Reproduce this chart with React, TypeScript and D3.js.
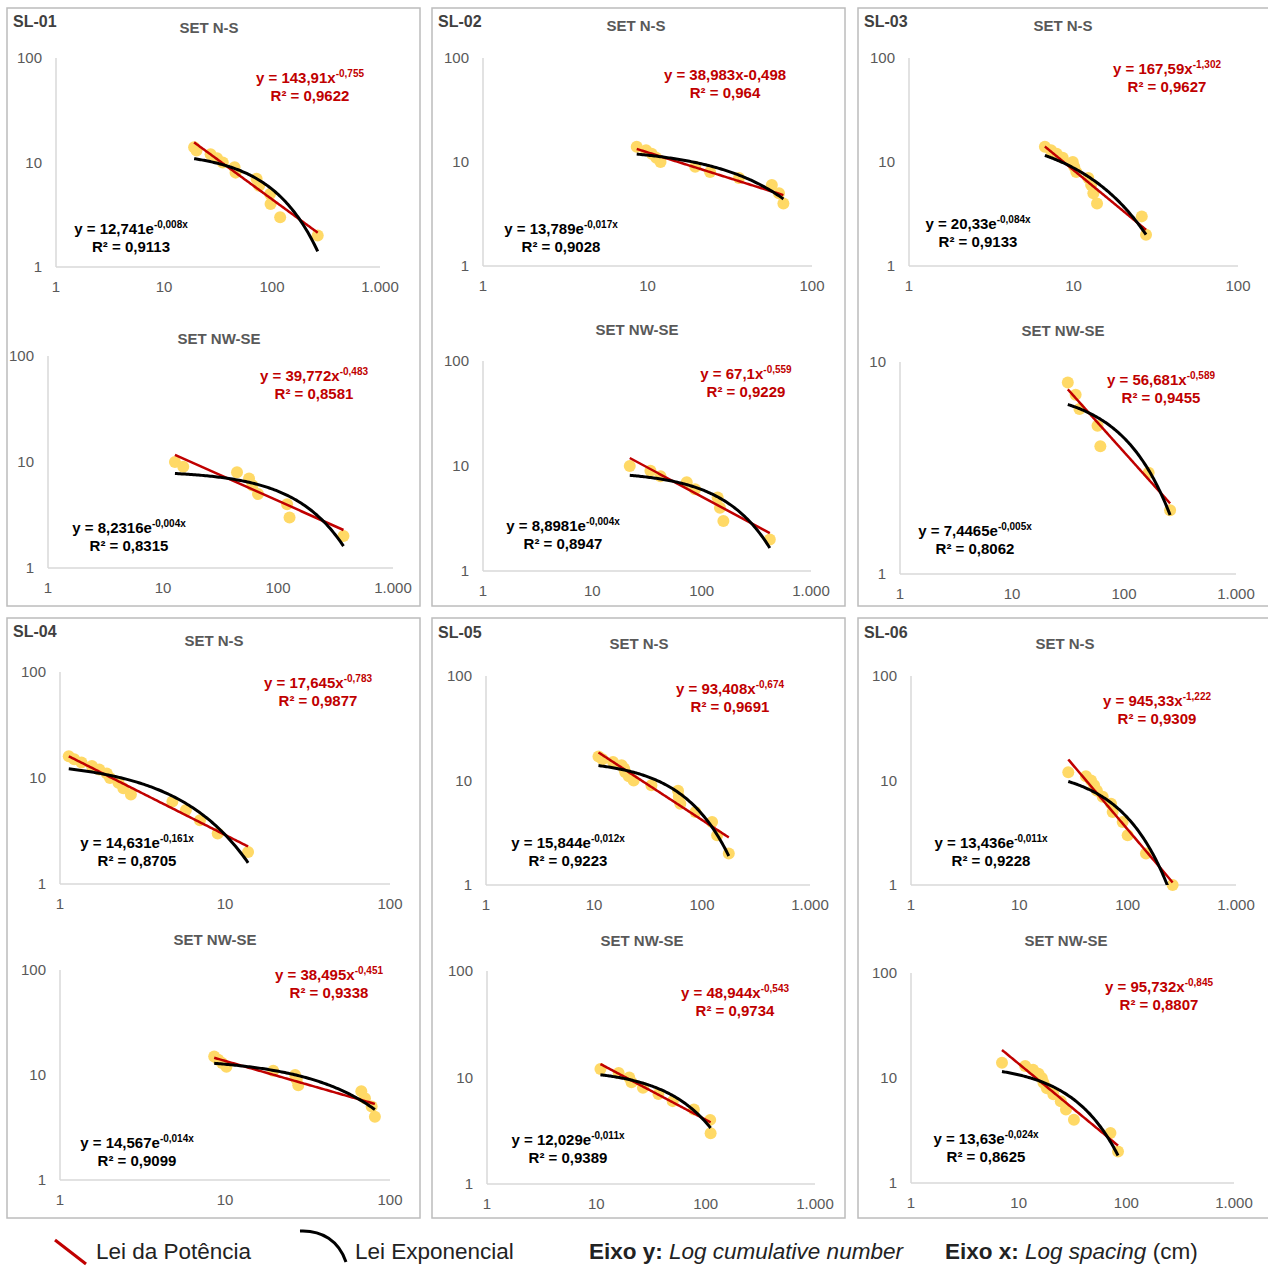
import React from "react";
import * as d3 from "d3";

const panelNames = ["SL-01", "SL-02", "SL-03", "SL-04", "SL-05", "SL-06"];
const setNames = ["SET N-S", "SET NW-SE"];

// spacing (cm) and cumulative number, per subplot
const sl01nsX = [19, 20, 27, 31, 35, 45, 46, 72, 76, 96, 97, 119, 265];
const sl01nsY = [14, 13, 12, 11, 10, 9, 8, 7, 6, 5, 4, 3, 2];
const sl01nwX = [12.7, 15, 44, 56, 60, 67, 120, 126, 371];
const sl01nwY = [10, 9, 8, 7, 6, 5, 4, 3, 2];
const sl02nsX = [8.6, 9.8, 10.6, 11.3, 12, 19.5, 24, 36, 57, 63, 67];
const sl02nsY = [14, 13, 12, 11, 10, 9, 8, 7, 6, 5, 4];
const sl02nwX = [22, 34, 42, 73, 87, 140, 147, 158, 420];
const sl02nwY = [10, 9, 8, 7, 6, 5, 4, 3, 2];
const sl03nsX = [6.7, 7.3, 7.9, 8.6, 9.9, 10.1, 10.4, 12.3, 12.8, 13.2, 13.9, 26, 27.6];
const sl03nsY = [14, 13, 12, 11, 10, 9, 8, 7, 6, 5, 4, 3, 2];
const sl03nwX = [31.5, 37, 40, 58, 61.5, 166, 258];
const sl03nwY = [8, 7, 6, 5, 4, 3, 2];
const sl04nsX = [1.13, 1.22, 1.35, 1.56, 1.73, 1.92, 2.01, 2.26, 2.42, 2.69, 4.8, 5.8, 7.05, 9.03, 13.8];
const sl04nsY = [16, 15, 14, 13, 12, 11, 10, 9, 8, 7, 6, 5, 4, 3, 2];
const sl04nwX = [8.6, 9.1, 9.6, 10.2, 19.6, 26.6, 27.2, 27.8, 67, 70.5, 77.4, 81];
const sl04nwY = [15, 14, 13, 12, 11, 10, 9, 8, 7, 6, 5, 4];
const sl05nsX = [11, 12, 15, 18, 19, 19.5, 21, 23.3, 34, 60, 61, 63, 87, 124, 138, 177];
const sl05nsY = [17, 16, 15, 14, 13, 12, 11, 10, 9, 8, 7, 6, 5, 4, 3, 2];
const sl05nwX = [10.9, 16, 20, 21, 26.7, 37, 50, 78, 110, 111];
const sl05nwY = [12, 11, 10, 9, 8, 7, 6, 5, 4, 3];
const sl06nsX = [28.3, 41.2, 45.9, 49, 52, 58.8, 70.2, 72.7, 89.9, 100, 147.6, 260];
const sl06nsY = [12, 11, 10, 9, 8, 7, 6, 5, 4, 3, 2, 1];
const sl06nwX = [7.0, 11.5, 13.6, 15.3, 16.4, 17, 18.3, 21, 24.6, 27.5, 32.6, 71.2, 83.7];
const sl06nwY = [14, 13, 12, 11, 10, 9, 8, 7, 6, 5, 4, 3, 2];

const seriesX = [sl01nsX, sl01nwX, sl02nsX, sl02nwX, sl03nsX, sl03nwX, sl04nsX, sl04nwX, sl05nsX, sl05nwX, sl06nsX, sl06nwX];
const seriesY = [sl01nsY, sl01nwY, sl02nsY, sl02nwY, sl03nsY, sl03nwY, sl04nsY, sl04nwY, sl05nsY, sl05nwY, sl06nsY, sl06nwY];

// trend line coefficients (power: a*x^b ; exponential: a*e^(b*x))
const powA = [143.91, 39.772, 38.983, 67.1, 167.59, 56.681, 17.645, 38.495, 93.408, 48.944, 945.33, 95.732];
const powB = [-0.755, -0.483, -0.498, -0.559, -1.302, -0.589, -0.783, -0.451, -0.674, -0.543, -1.222, -0.845];
const expA = [12.741, 8.2316, 13.789, 8.8981, 20.33, 7.4465, 14.631, 14.567, 15.844, 12.029, 13.436, 13.63];
const expB = [-0.0083, -0.0044, -0.017, -0.004, -0.084, -0.0053, -0.161, -0.014, -0.012, -0.0115, -0.0112, -0.024];

const xMax = [1000, 1000, 100, 1000, 100, 1000, 100, 100, 1000, 1000, 1000, 1000];
const yMax = [100, 100, 100, 100, 100, 10, 100, 100, 100, 100, 100, 100];
const xTickLabels = ["1", "10", "100", "1.000"];
const yTickLabels = ["1", "10", "100"];

const redEq = ["y = 143,91x", "y = 39,772x", "y = 38,983x-0,498", "y = 67,1x", "y = 167,59x", "y = 56,681x", "y = 17,645x", "y = 38,495x", "y = 93,408x", "y = 48,944x", "y = 945,33x", "y = 95,732x"];
const redSup = ["-0,755", "-0,483", "", "-0,559", "-1,302", "-0,589", "-0,783", "-0,451", "-0,674", "-0,543", "-1,222", "-0,845"];
const redR2 = ["0,9622", "0,8581", "0,964", "0,9229", "0,9627", "0,9455", "0,9877", "0,9338", "0,9691", "0,9734", "0,9309", "0,8807"];
const blackEq = ["y = 12,741e", "y = 8,2316e", "y = 13,789e", "y = 8,8981e", "y = 20,33e", "y = 7,4465e", "y = 14,631e", "y = 14,567e", "y = 15,844e", "y = 12,029e", "y = 13,436e", "y = 13,63e"];
const blackSup = ["-0,008x", "-0,004x", "-0,017x", "-0,004x", "-0,084x", "-0,005x", "-0,161x", "-0,014x", "-0,012x", "-0,011x", "-0,011x", "-0,024x"];
const blackR2 = ["0,9113", "0,8315", "0,9028", "0,8947", "0,9133", "0,8062", "0,8705", "0,9099", "0,9223", "0,9389", "0,9228", "0,8625"];

// layout (pixel geometry)
const LAYOUT = [
  { x0: 56, x1: 380, y0: 58, y1: 267, title: [209, 33], red: [310, 83], black: [131, 234] },
  { x0: 48, x1: 393, y0: 356, y1: 568, title: [219, 344], red: [314, 381], black: [129, 533] },
  { x0: 483, x1: 812, y0: 58, y1: 266, title: [636, 31], red: [725, 80], black: [561, 234] },
  { x0: 483, x1: 811, y0: 361, y1: 571, title: [637, 335], red: [746, 379], black: [563, 531] },
  { x0: 909, x1: 1238, y0: 58, y1: 266, title: [1063, 31], red: [1167, 74], black: [978, 229] },
  { x0: 900, x1: 1236, y0: 362, y1: 574, title: [1063, 336], red: [1161, 385], black: [975, 536] },
  { x0: 60, x1: 390, y0: 672, y1: 884, title: [214, 646], red: [318, 688], black: [137, 848] },
  { x0: 60, x1: 390, y0: 970, y1: 1180, title: [215, 945], red: [329, 980], black: [137, 1148] },
  { x0: 486, x1: 810, y0: 676, y1: 885, title: [639, 649], red: [730, 694], black: [568, 848] },
  { x0: 487, x1: 815, y0: 971, y1: 1184, title: [642, 946], red: [735, 998], black: [568, 1145] },
  { x0: 911, x1: 1236, y0: 676, y1: 885, title: [1065, 649], red: [1157, 706], black: [991, 848] },
  { x0: 911, x1: 1234, y0: 973, y1: 1183, title: [1066, 946], red: [1159, 992], black: [986, 1144] },
];
const PANELS = [
  { x: 7, y: 8, w: 413, h: 598, lx: 13, ly: 27 },
  { x: 432, y: 8, w: 413, h: 598, lx: 438, ly: 27 },
  { x: 858, y: 8, w: 414, h: 598, lx: 864, ly: 27 },
  { x: 7, y: 618, w: 413, h: 600, lx: 13, ly: 637 },
  { x: 432, y: 618, w: 413, h: 600, lx: 438, ly: 638 },
  { x: 858, y: 618, w: 414, h: 600, lx: 864, ly: 638 },
];

const FONT = "'Liberation Sans', Arial, Helvetica, sans-serif";
const RED = "#c00000";
const AXIS = "#d9d9d9";
const LABEL = "#595959";

function Subplot({ i }: { i: number }) {
  const L = LAYOUT[i];
  const x = d3.scaleLog().domain([1, xMax[i]]).range([L.x0, L.x1]);
  const y = d3.scaleLog().domain([1, yMax[i]]).range([L.y1, L.y0]);
  const xs = seriesX[i];
  const ys = seriesY[i];
  const [lo, hi] = d3.extent(xs) as [number, number];
  const samples = d3.range(0, 101).map((k) => lo * Math.pow(hi / lo, k / 100));
  const line = d3
    .line<[number, number]>()
    .x((d) => x(d[0]))
    .y((d) => y(d[1]));
  const powPts = samples.map((v) => [v, powA[i] * Math.pow(v, powB[i])] as [number, number]);
  const expPts = samples.map((v) => [v, expA[i] * Math.exp(expB[i] * v)] as [number, number]);
  const xTicks = d3.range(0, Math.round(Math.log10(xMax[i])) + 1).map((k) => Math.pow(10, k));
  const yTicks = d3.range(0, Math.round(Math.log10(yMax[i])) + 1).map((k) => Math.pow(10, k));
  const clipId = `clip-${i}`;
  return (
    <g>
      <defs>
        <clipPath id={clipId}>
          <rect x={L.x0} y={L.y0 - 30} width={L.x1 - L.x0 + 10} height={L.y1 - L.y0 + 30} />
        </clipPath>
      </defs>
      <text x={L.title[0]} y={L.title[1]} textAnchor="middle" fontFamily={FONT} fontWeight="bold" fontSize={15} fill={LABEL}>
        {setNames[i % 2]}
      </text>
      <line x1={L.x0} x2={L.x0} y1={L.y0} y2={L.y1} stroke={AXIS} strokeWidth={1.5} />
      <line x1={L.x0} x2={L.x1} y1={L.y1} y2={L.y1} stroke={AXIS} strokeWidth={1.5} />
      {xTicks.map((t, k) => (
        <text key={"x" + k} x={x(t)} y={L.y1 + 25} textAnchor="middle" fontFamily={FONT} fontSize={15} fill={LABEL}>
          {xTickLabels[k]}
        </text>
      ))}
      {yTicks.map((t, k) => (
        <text key={"y" + k} x={L.x0 - 14} y={y(t) + 5} textAnchor="end" fontFamily={FONT} fontSize={15} fill={LABEL}>
          {yTickLabels[k]}
        </text>
      ))}
      {xs.map((v, k) => (
        <circle key={k} cx={x(v)} cy={y(ys[k])} r={6} fill="#ffd966" />
      ))}
      <g clipPath={`url(#${clipId})`}>
        <path d={line(powPts) || ""} fill="none" stroke={RED} strokeWidth={2.5} />
        <path d={line(expPts) || ""} fill="none" stroke="#000" strokeWidth={3} />
      </g>
      <text x={L.red[0]} y={L.red[1]} textAnchor="middle" fontFamily={FONT} fontWeight="bold" fontSize={15} fill={RED}>
        {redEq[i]}
        {redSup[i] ? (
          <tspan dy={-6} fontSize={10}>
            {redSup[i]}
          </tspan>
        ) : null}
      </text>
      <text x={L.red[0]} y={L.red[1] + 18} textAnchor="middle" fontFamily={FONT} fontWeight="bold" fontSize={15} fill={RED}>
        {"R² = " + redR2[i]}
      </text>
      <text x={L.black[0]} y={L.black[1]} textAnchor="middle" fontFamily={FONT} fontWeight="bold" fontSize={15} fill="#000">
        {blackEq[i]}
        <tspan dy={-6} fontSize={10}>
          {blackSup[i]}
        </tspan>
      </text>
      <text x={L.black[0]} y={L.black[1] + 18} textAnchor="middle" fontFamily={FONT} fontWeight="bold" fontSize={15} fill="#000">
        {"R² = " + blackR2[i]}
      </text>
    </g>
  );
}

export default function App() {
  return (
    <svg width={1268} height={1266} style={{ position: "absolute", left: 0, top: 0, background: "#fff" }}>
      <rect x={0} y={0} width={1268} height={1266} fill="#fff" />
      {PANELS.map((p, k) => (
        <g key={k}>
          <rect x={p.x} y={p.y} width={p.w} height={p.h} fill="none" stroke="#bcbcbc" strokeWidth={1.5} />
          <text x={p.lx} y={p.ly} fontFamily={FONT} fontWeight="bold" fontSize={16} fill="#404040">
            {panelNames[k]}
          </text>
        </g>
      ))}
      {LAYOUT.map((_, i) => (
        <Subplot key={i} i={i} />
      ))}
      {/* legend */}
      <line x1={55} y1={1240} x2={86} y2={1264} stroke={RED} strokeWidth={3} />
      <text x={96} y={1259} fontFamily={FONT} fontSize={22.5} fill="#222">Lei da Potência</text>
      <path d="M300,1231 C322,1230 339,1241 346,1262" fill="none" stroke="#000" strokeWidth={3} />
      <text x={355} y={1259} fontFamily={FONT} fontSize={22.5} fill="#222">Lei Exponencial</text>
      <text x={589} y={1259} fontFamily={FONT} fontSize={22.5} fill="#222">
        <tspan fontWeight="bold">Eixo y:</tspan>
        <tspan fontStyle="italic"> Log cumulative number</tspan>
      </text>
      <text x={945} y={1259} fontFamily={FONT} fontSize={22.5} fill="#222">
        <tspan fontWeight="bold">Eixo x:</tspan>
        <tspan fontStyle="italic"> Log spacing</tspan>
        <tspan> (cm)</tspan>
      </text>
    </svg>
  );
}
